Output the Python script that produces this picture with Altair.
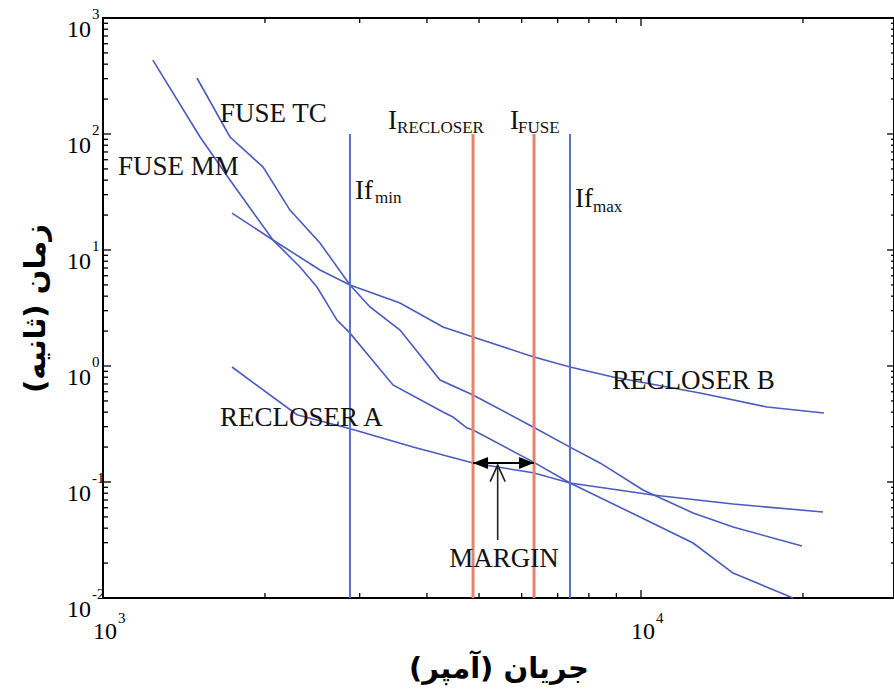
import altair as alt
import pandas as pd

# ---------------- data ----------------
fuse_tc_current = [1495, 1722, 1984, 2226, 2531, 2878, 3135, 3565, 4231, 4873,
                   6301, 7379, 8391, 10086, 12497, 14830, 19920]
fuse_tc_time = [304, 94.2, 51.9, 22.1, 11.5, 4.99, 3.23, 2.04, 0.757, 0.562,
                0.298, 0.200, 0.146, 0.0853, 0.0541, 0.0409, 0.0281]

fuse_mm_current = [1238, 1515, 1722, 2070, 2324, 2499, 2722, 2878, 3459, 4285,
                   4472, 4751, 4873, 6301, 7379, 9957, 12497, 14830, 19165]
fuse_mm_time = [434, 94.2, 40.1, 12.2, 7.13, 4.80, 2.49, 1.92, 0.686, 0.401,
                0.363, 0.292, 0.281, 0.149, 0.098, 0.0499, 0.0298, 0.0164, 0.0100]

recloser_a_current = [1737, 2294, 2903, 3769, 4873, 6301, 7379, 10527, 14830, 21790]
recloser_a_time = [0.980, 0.380, 0.285, 0.200, 0.146, 0.120, 0.098, 0.0773, 0.0646, 0.0551]

recloser_b_current = [1737, 2070, 2531, 2878, 3565, 4285, 4873, 6301, 7379, 8872,
                      12874, 17149, 21880]
recloser_b_time = [20.8, 12.2, 6.72, 4.99, 3.49, 2.17, 1.78, 1.20, 0.980, 0.804,
                   0.585, 0.443, 0.394]

vline_names = ["If_min", "I_RECLOSER", "I_FUSE", "If_max"]
vline_current = [2878, 4873, 6327, 7379]
vline_kind = ["fault", "device", "device", "fault"]
vline_bottom = 0.01
vline_top = 100

label_text = ["FUSE TC", "FUSE MM", "RECLOSER A", "RECLOSER B"]
label_current = [1650, 1066, 1650, 8831]
label_time = [148.7, 51.9, 0.356, 0.743]

symbol_text = ["I", "I", "If", "If"]
symbol_current = [3386, 5708, 2940, 7540]
symbol_time = [110, 110, 27.5, 23.5]
sub_text = ["RECLOSER", "FUSE", "min", "max"]
sub_current = [3520, 5906, 3203, 8146]
sub_time = [102, 102, 25.4, 21.3]

margin_text = "MARGIN"
margin_label_current = 5566
margin_label_time = 0.0217
margin_from = 4873
margin_to = 6327
margin_time = 0.146
pointer_current = 5415
pointer_from_time = 0.0316
pointer_to_time = 0.140

x_major_ticks = [1000, 10000]
x_minor_ticks = [k * 1000 for k in range(2, 10)] + [20000]
x_label_exp = ["3", "4"]
y_exps = [-2, -1, 0, 1, 2, 3]
y_major_ticks = [10.0 ** e for e in y_exps]
y_minor_ticks = [k * 10.0 ** e for e in range(-2, 3) for k in range(2, 10)]

x_title = "جریان (آمپر)"
y_title = "زمان (ثانیه)"

# ---------------- styling ----------------
W, H = 791, 580
BLUE = "#4a5bbf"
BLUE_V = "#5a6ed0"
RED = "#e8826a"
SERIF = "Liberation Serif"
ARABIC = "DejaVu Sans"

xscale = alt.Scale(type="log", domain=[1000, 29530], nice=False)
yscale = alt.Scale(type="log", domain=[0.01, 1000], nice=False)

x_axis = alt.Axis(labels=False, ticks=False, domain=False, grid=False,
                  title=x_title, titleFont=ARABIC, titleFontSize=29,
                  titleFontWeight="bold", titleColor="#000", titleY=70,
                  titleBaseline="middle", titleAlign="center")
y_axis = alt.Axis(labels=False, ticks=False, domain=False, grid=False,
                  title=y_title, titleFont=ARABIC, titleFontSize=29,
                  titleFontWeight="bold", titleColor="#000", titleAngle=270,
                  titleX=-68, titleY=H / 2, titleBaseline="middle",
                  titleAlign="center")


def X(f):
    return alt.X(f"{f}:Q", scale=xscale, axis=x_axis)


def Y(f):
    return alt.Y(f"{f}:Q", scale=yscale, axis=y_axis)


# ---------------- tables ----------------
rows = []
for name, xs, ys in [("FUSE TC", fuse_tc_current, fuse_tc_time),
                     ("FUSE MM", fuse_mm_current, fuse_mm_time),
                     ("RECLOSER A", recloser_a_current, recloser_a_time),
                     ("RECLOSER B", recloser_b_current, recloser_b_time)]:
    for i, (a, b) in enumerate(zip(xs, ys)):
        rows.append({"curve": name, "i": i, "current": a, "time": b})
curve_df = pd.DataFrame(rows)

vline_df = pd.DataFrame({"name": vline_names, "current": vline_current,
                         "kind": vline_kind,
                         "lo": [vline_bottom] * 4, "hi": [vline_top] * 4})

curves = alt.Chart(curve_df).mark_line(color=BLUE, strokeWidth=1.6).encode(
    x=X("current"), y=Y("time"), detail="curve:N", order="i:Q")

vlines = alt.Chart(vline_df).mark_rule().encode(
    x=X("current"), y=Y("lo"), y2="hi",
    color=alt.Color("kind:N", scale=alt.Scale(domain=["fault", "device"],
                                              range=[BLUE_V, RED]), legend=None),
    strokeWidth=alt.StrokeWidth("kind:N", scale=alt.Scale(domain=["fault", "device"],
                                                          range=[2, 3]), legend=None))


# ticks (inward)
def xticks(vals, length, top):
    d = pd.DataFrame({"current": vals})
    if top:
        enc = dict(y=alt.value(0), y2=alt.value(length))
    else:
        enc = dict(y=alt.value(H), y2=alt.value(H - length))
    return alt.Chart(d).mark_rule(color="#000", strokeWidth=1.3).encode(x=X("current"), **enc)


def yticks(vals, length, right):
    d = pd.DataFrame({"time": vals})
    if right:
        enc = dict(x=alt.value(W), x2=alt.value(W - length))
    else:
        enc = dict(x=alt.value(0), x2=alt.value(length))
    return alt.Chart(d).mark_rule(color="#000", strokeWidth=1.3).encode(y=Y("time"), **enc)


ticks = [xticks(x_major_ticks, 8, False), xticks(x_minor_ticks, 5, False),
         xticks(x_major_ticks, 8, True), xticks(x_minor_ticks, 5, True),
         yticks(y_major_ticks, 8, False), yticks(y_minor_ticks, 5, False),
         yticks(y_major_ticks, 7, True), yticks(y_minor_ticks, 3, True)]

# tick labels: "10" plus exponent
ylab_df = pd.DataFrame({"time": y_major_ticks, "exp": [str(e) for e in y_exps]})
xlab_df = pd.DataFrame({"current": x_major_ticks, "exp": x_label_exp})

ylab_base = alt.Chart(ylab_df).mark_text(
    text="10", align="right", baseline="middle", dx=-12, dy=12,
    font=SERIF, fontSize=24, color="#000").encode(y=Y("time"), x=alt.value(0))
ylab_exp = alt.Chart(ylab_df).mark_text(
    align="left", baseline="middle", dx=-11, dy=-4,
    font=SERIF, fontSize=15, color="#000").encode(y=Y("time"), x=alt.value(0), text="exp:N")
xlab_base = alt.Chart(xlab_df).mark_text(
    text="10", align="center", baseline="middle", dx=2, dy=34,
    font=SERIF, fontSize=24, color="#000").encode(x=X("current"), y=alt.value(H))
xlab_exp = alt.Chart(xlab_df).mark_text(
    align="left", baseline="middle", dx=15, dy=20,
    font=SERIF, fontSize=15, color="#000").encode(x=X("current"), y=alt.value(H), text="exp:N")

# annotations
lab_df = pd.DataFrame({"t": label_text, "current": label_current, "time": label_time})
labels = alt.Chart(lab_df).mark_text(
    align="left", baseline="middle", font=SERIF, fontSize=27, color="#111").encode(
    x=X("current"), y=Y("time"), text="t:N")

sym_df = pd.DataFrame({"t": symbol_text, "current": symbol_current, "time": symbol_time})
syms = alt.Chart(sym_df).mark_text(
    align="left", baseline="alphabetic", font=SERIF, fontSize=27, color="#111").encode(
    x=X("current"), y=Y("time"), text="t:N")
sub_df = pd.DataFrame({"t": sub_text, "current": sub_current, "time": sub_time})
subs = alt.Chart(sub_df).mark_text(
    align="left", baseline="alphabetic", font=SERIF, fontSize=17, color="#111").encode(
    x=X("current"), y=Y("time"), text="t:N")

mlab_df = pd.DataFrame({"t": [margin_text], "current": [margin_label_current],
                        "time": [margin_label_time]})
mlab = alt.Chart(mlab_df).mark_text(
    align="center", baseline="middle", font=SERIF, fontSize=27, color="#111").encode(
    x=X("current"), y=Y("time"), text="t:N")

arrow_df = pd.DataFrame({"a": [margin_from], "b": [margin_to], "time": [margin_time]})
arrow_line = alt.Chart(arrow_df).mark_rule(color="#000", strokeWidth=2).encode(
    x=X("a"), x2="b", y=Y("time"))
head_l = alt.Chart(arrow_df).mark_point(
    shape="M0,0L2,-0.8L2,0.8Z", size=225, filled=True, color="#000", opacity=1).encode(
    x=X("a"), y=Y("time"))
head_r = alt.Chart(arrow_df).mark_point(
    shape="M0,0L-2,-0.8L-2,0.8Z", size=225, filled=True, color="#000", opacity=1).encode(
    x=X("b"), y=Y("time"))

ptr_df = pd.DataFrame({"current": [pointer_current], "lo": [pointer_from_time],
                       "hi": [pointer_to_time]})
ptr_line = alt.Chart(ptr_df).mark_rule(color="#222", strokeWidth=1.6).encode(
    x=X("current"), y=Y("lo"), y2="hi")
ptr_head = alt.Chart(ptr_df).mark_point(
    shape="M-0.5,1.1L0,0L0.5,1.1", size=900, filled=False, color="#222",
    strokeWidth=1.6, opacity=1).encode(x=X("current"), y=Y("hi"))

chart = alt.layer(
    curves, vlines, *ticks, ylab_base, ylab_exp, xlab_base, xlab_exp,
    labels, syms, subs, mlab, arrow_line, head_l, head_r, ptr_line, ptr_head
).properties(
    width=W, height=H,
    padding={"left": 103, "top": 18, "right": 0, "bottom": 95},
    autosize=alt.AutoSizeParams(type="none"),
    background="white",
).configure_view(stroke="#000", strokeWidth=2)

chart.save("out.html", embed_options={"renderer": "svg", "actions": False})
